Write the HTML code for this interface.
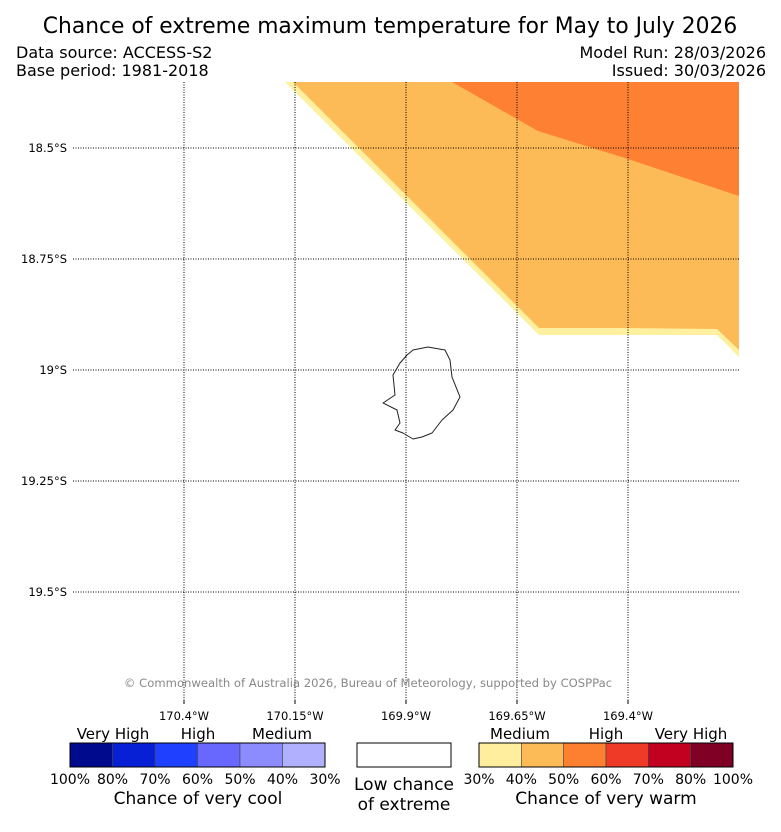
<!DOCTYPE html>
<html><head><meta charset="utf-8"><style>
body{margin:0;background:#fff;width:781px;height:827px;overflow:hidden;font-family:"Liberation Sans","DejaVu Sans",sans-serif}
</style></head><body>
<svg id="chart" width="781" height="827" xmlns="http://www.w3.org/2000/svg" font-family="DejaVu Sans, Liberation Sans, sans-serif">
<rect width="781" height="827" fill="#fff"/>
<text x="390" y="33" text-anchor="middle" font-size="21.8">Chance of extreme maximum temperature for May to July 2026</text>
<text x="16" y="58" font-size="16">Data source: ACCESS-S2</text>
<text x="16" y="76" font-size="16">Base period: 1981-2018</text>
<text x="766" y="58" font-size="16" text-anchor="end">Model Run: 28/03/2026</text>
<text x="766" y="76" font-size="16" text-anchor="end">Issued: 30/03/2026</text>
<g id="map"></g>
<g id="grid"></g>
<g id="legend"></g>
</svg>
<script>
const NS="http://www.w3.org/2000/svg";
const lonTicks=[170.4,170.15,169.9,169.65,169.4];
const latTicks=[18.5,18.75,19,19.25,19.5];
const lonTickLabels=["170.4°W","170.15°W","169.9°W","169.65°W","169.4°W"];
const latTickLabels=["18.5°S","18.75°S","19°S","19.25°S","19.5°S"];
const bandMediumLon=[170.1725,169.6005,169.1995,169.15,169.15];
const bandMediumLat=[18.3514,18.9212,18.9212,18.9707,18.3514];
const band40Lon=[170.1545,169.6005,169.418,169.1995,169.15,169.15];
const band40Lat=[18.3514,18.9054,18.9054,18.9077,18.955,18.3514];
const band50Lon=[169.7964,169.6027,169.4,169.15,169.15];
const band50Lat=[18.3514,18.4617,18.5248,18.6081,18.3514];
const islandLon=[169.8977,169.8842,169.8505,169.8122,169.8009,169.7964,169.7784,169.7941,169.8189,169.8414,169.8640,169.8842,169.9068,169.9248,169.9135,169.9203,169.9518,169.9248,169.9293,169.9135];
const islandLat=[18.9662,18.9550,18.9482,18.9550,18.9775,19.0158,19.0608,19.0901,19.1126,19.1419,19.1509,19.1554,19.1419,19.1351,19.1194,19.0901,19.0743,19.0563,19.0113,18.9842];
const coolColors=["#000a8c","#0720d6","#2040ff","#6868ff","#8c8cff","#b0b0ff"];
const coolLabels=["100%","80%","70%","60%","50%","40%","30%"];
const warmColors=["#ffee9d","#fdbb57","#fd8031","#ee3a26","#c20121","#800025"];
const warmLabels=["30%","40%","50%","60%","70%","80%","100%"];

const X0=73,X1=739,Y0=82,Y1=700;
const xs=lon=>184+(170.4-lon)/0.25*111;
const ys=lat=>148+(lat-18.5)/0.25*111;
const map=document.getElementById('map'),grid=document.getElementById('grid'),leg=document.getElementById('legend');
function mk(t,a,p){const e=document.createElementNS(NS,t);for(const k in a)e.setAttribute(k,a[k]);(p||map).appendChild(e);return e;}
function poly(lons,lats,fill,name){
  const e=mk('polygon',{points:lons.map((l,i)=>xs(l)+','+ys(lats[i])).join(' '),fill:fill});
  
  
  return e;
}
poly(bandMediumLon,bandMediumLat,"#fff0a0","warm-30-40-region");
poly(band40Lon,band40Lat,"#fcbb57","warm-40-50-region");
poly(band50Lon,band50Lat,"#fe8033","warm-50-60-region");
const isl=mk('polygon',{points:islandLon.map((l,i)=>xs(l)+','+ys(islandLat[i])).join(' '),fill:"none",stroke:"#222","stroke-width":"1","stroke-linejoin":"round"});


lonTicks.forEach((l,i)=>{
  const x=xs(l);
  const g=mk('line',{x1:x,y1:Y0,x2:x,y2:Y1,stroke:"#000","stroke-width":"1","stroke-dasharray":"1,1.5"},grid);
  
  
  mk('line',{x1:x,y1:Y1,x2:x,y2:Y1+4,stroke:"#000"},grid);
  const t=mk('text',{x:x,y:720,"font-size":"11.5","text-anchor":"middle"},grid);t.textContent=lonTickLabels[i];
  
  
});
latTicks.forEach((l,i)=>{
  const y=ys(l);
  const g=mk('line',{x1:X0,y1:y,x2:X1,y2:y,stroke:"#000","stroke-width":"1","stroke-dasharray":"1,1.5"},grid);
  
  
  const t=mk('text',{x:67,y:y+4,"font-size":"11.5","text-anchor":"end"},grid);t.textContent=latTickLabels[i];
  
  
});
const cp=mk('text',{x:368,y:687,"font-size":"11.6",fill:"#888","text-anchor":"middle"},grid);
cp.textContent="© Commonwealth of Australia 2026, Bureau of Meteorology, supported by COSPPac";



function bar(x0,w,colors,labels,name){
  const cw=w/colors.length;
  colors.forEach((c,i)=>{
    const r=mk('rect',{x:x0+i*cw,y:743,width:cw,height:24,fill:c,stroke:"#444","stroke-width":"0.6"},leg);
    
    
  });
  mk('rect',{x:x0,y:743,width:w,height:24,fill:"none",stroke:"#000","stroke-width":"1"},leg);
  labels.forEach((s,i)=>{
    const t=mk('text',{x:x0+i*cw,y:784,"font-size":"14","text-anchor":"middle"},leg);t.textContent=s;
    
    
  });
}
bar(70,255,coolColors,coolLabels,"cool");
bar(479,254,warmColors,warmLabels,"warm");
const wb=mk('rect',{x:357,y:743,width:94,height:24,fill:"#fff",stroke:"#000","stroke-width":"1"},leg);


[["Very High",113,739],["High",198,739],["Medium",282,739],["Medium",520,739],["High",606,739],["Very High",691,739],
 ["Chance of very cool",198,804],["Chance of very warm",606,804],["Low chance",404,790],["of extreme",404,810]].forEach(a=>{
  const t=mk('text',{x:a[1],y:a[2],"font-size":a[0].startsWith("Chance")||a[0].startsWith("Low")||a[0].startsWith("of")?"17":"15","text-anchor":"middle"},leg);
  t.textContent=a[0];
  
  
});
</script>
</body></html>
